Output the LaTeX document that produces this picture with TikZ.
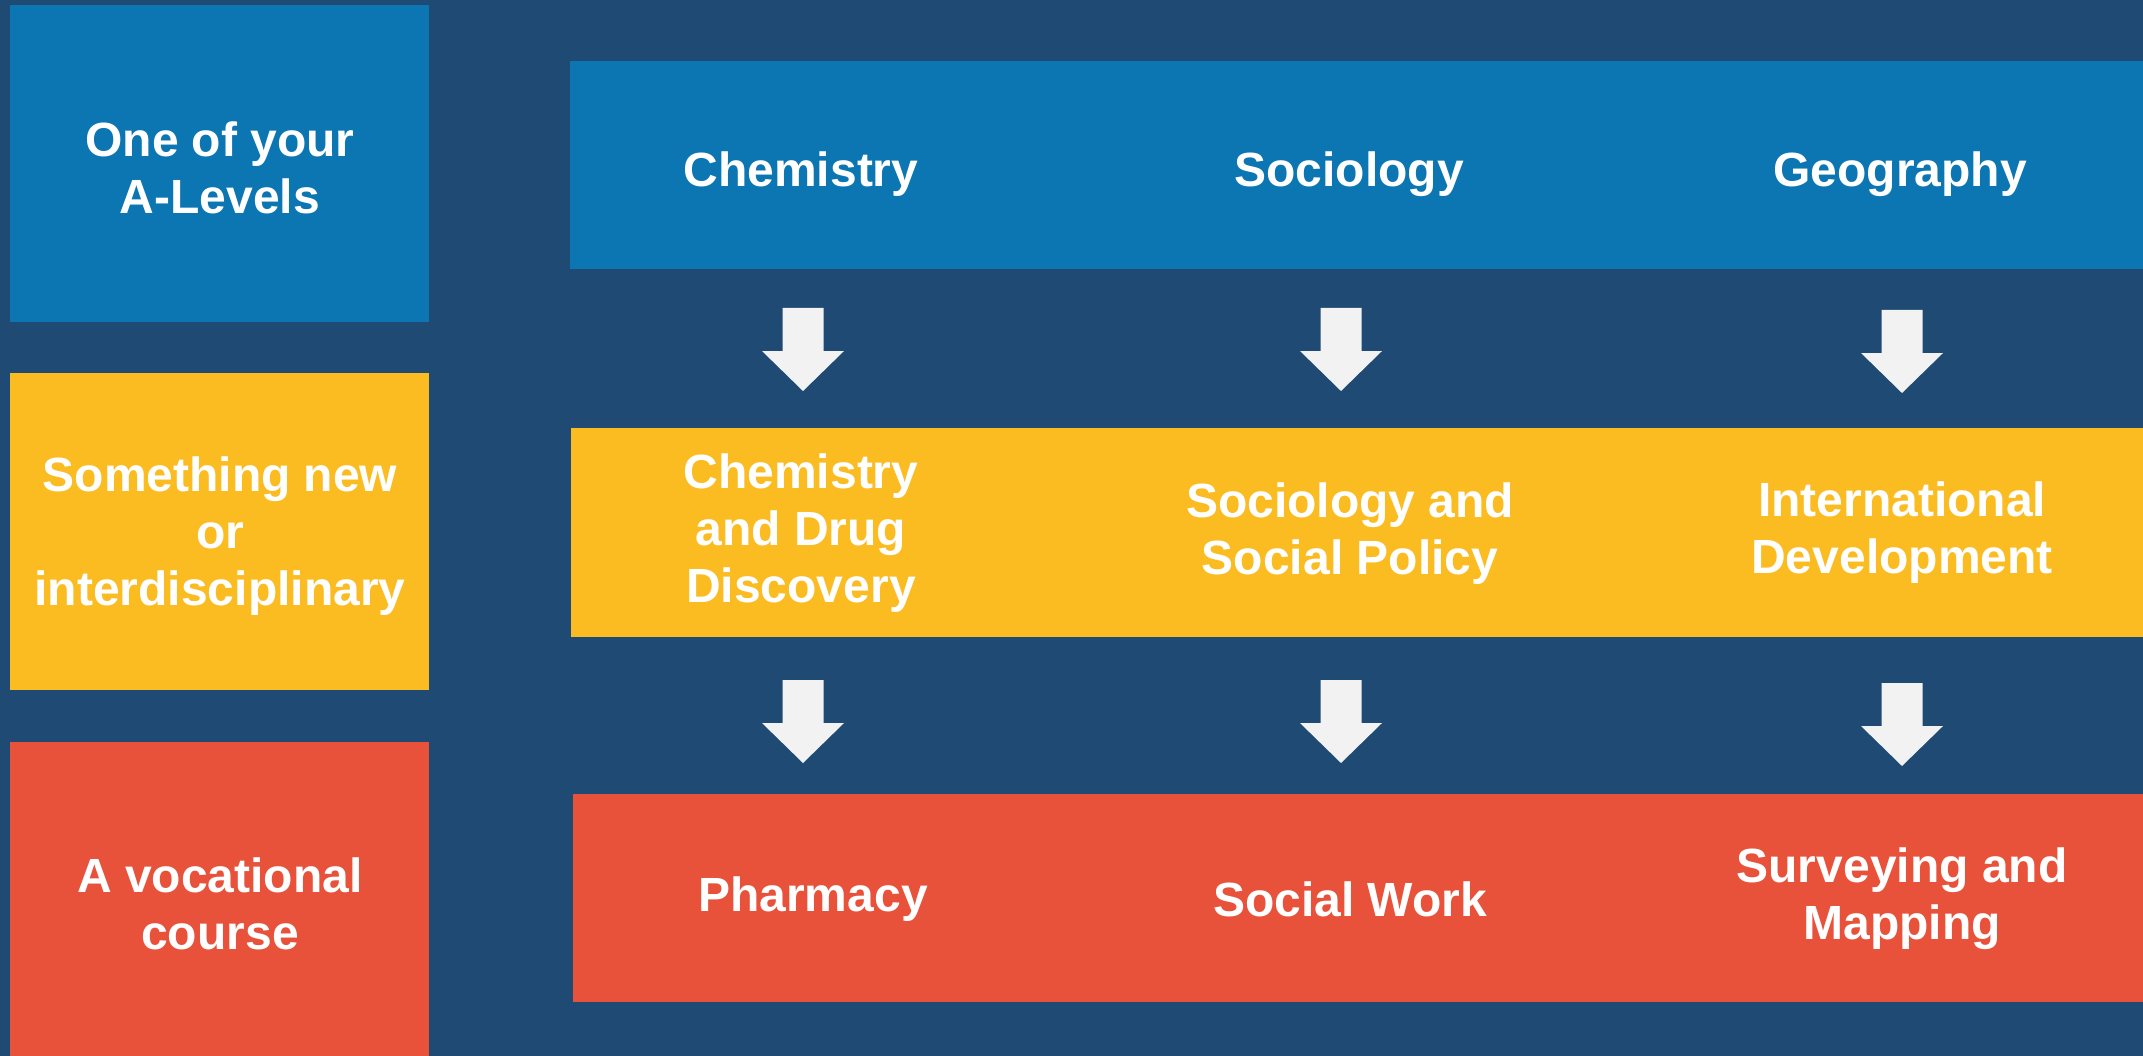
\documentclass[tikz,border=0pt]{standalone}
\usepackage{fontspec}
\setmainfont{Liberation Sans}
\usetikzlibrary{positioning}

\definecolor{darkbg}{RGB}{30,74,115}
\definecolor{boxblue}{RGB}{12,118,178}
\definecolor{boxyellow}{RGB}{251,188,34}
\definecolor{boxred}{RGB}{232,81,58}
\definecolor{arrowgrey}{RGB}{242,242,242}

\begin{document}
\begin{tikzpicture}[x=1pt,y=-1pt]
  \tikzstyle{lbl}=[text=white, inner sep=0pt, align=center,
  font=\fontsize{48}{57}\selectfont\bfseries]
  \tikzstyle{darr}=[fill=arrowgrey]

  \fill[darkbg] (0,0) rectangle (2143,1056);

  % left column
  \fill[boxblue] (10,5.5) rectangle (429,322);
  \fill[boxyellow] (10,373) rectangle (429,690);
  \fill[boxred] (10,742) rectangle (429,1056);

  % rows
  \fill[boxblue] (570,61.5) rectangle (2143,269);
  \fill[boxyellow] (571,428) rectangle (2143,637);
  \fill[boxred] (573,794) rectangle (2143,1002);

  \node[lbl] (alevel) at (220,168) {One of your\\A-Levels};
  \node[lbl] (newint) at (220,536) {Something new\\or\\interdisciplinary};
  \node[lbl] (vocat) at (220,904) {A vocational\\course};

  \node[lbl] (chem) at (801,174) {Chemistry};
  \node[lbl] (soc) at (1349,174) {Sociology};
  \node[lbl] (geog) at (1900,174) {Geography};

  \node[lbl] (chemdrug) at (801,533) {Chemistry\\and Drug\\Discovery};
  \node[lbl] (socpol) at (1350,534) {Sociology and\\Social Policy};
  \node[lbl] (intdev) at (1902,533) {International\\Development};

  \node[lbl] (pharm) at (813,899) {Pharmacy};
  \node[lbl] (socwork) at (1350,899) {Social Work};
  \node[lbl] (survey) at (1902,899) {Surveying and\\Mapping};

  % block arrows
  \foreach \x/\y in {803/308, 1341/308, 1902/310, 803/680, 1341/680, 1902/683}
    \fill[darr] (\x-20.5,\y) -- ++(41,0) -- ++(0,43) -- ++(20.5,0)
      -- (\x,\y+83) -- (\x-41,\y+43) -- (\x-20.5,\y+43) -- cycle;
\end{tikzpicture}
\end{document}
